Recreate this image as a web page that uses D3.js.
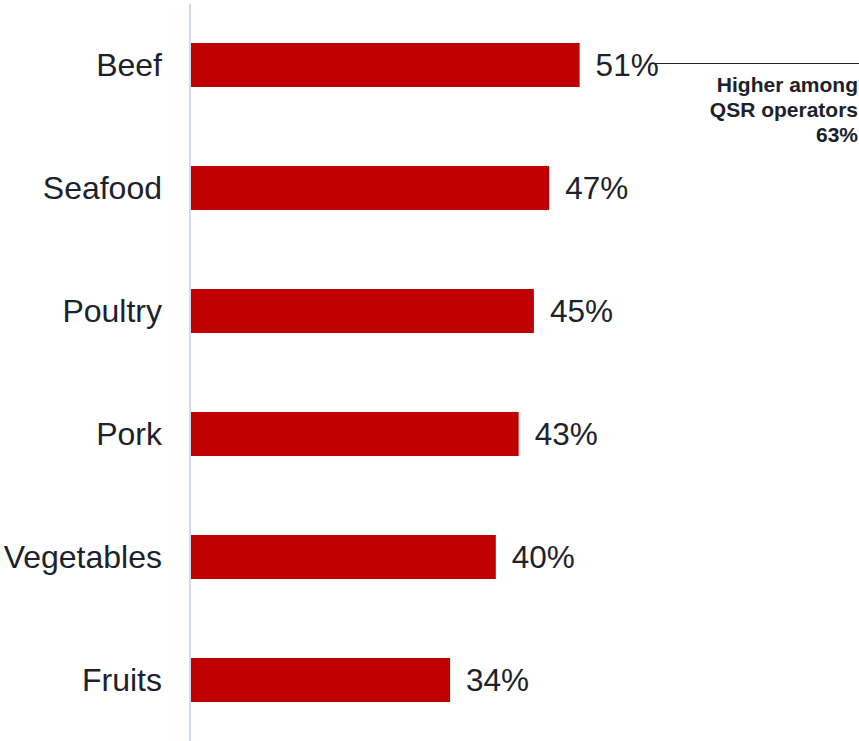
<!DOCTYPE html>
<html>
<head>
<meta charset="utf-8">
<script src="https://cdn.jsdelivr.net/npm/d3@7"></script>
<style>
  html, body { margin: 0; padding: 0; background: #ffffff; }
  svg { display: block; }
</style>
</head>
<body>
<svg id="chart" width="859" height="741"></svg>
<script>
// Share of operators by protein / produce category
const categories = ["Beef", "Seafood", "Poultry", "Pork", "Vegetables", "Fruits"];
const values = [51, 47, 45, 43, 40, 34];

// Callout next to the top bar
const calloutLines = ["Higher among", "QSR operators", "63%"];

const W = 859, H = 741;
const svg = d3.select("#chart");

const x = d3.scaleLinear().domain([0, 100]).range([191, 191 + 762]);
const y = d3.scaleBand().domain(categories).range([3.5, 741.5]).paddingInner(0.642).paddingOuter(0.321);

const textColor = "#1c222b";
const font = "'Liberation Sans', Arial, Helvetica, sans-serif";

// vertical baseline axis
svg.append("line")
  .attr("x1", 190).attr("x2", 190)
  .attr("y1", 4).attr("y2", H)
  .attr("stroke", "#d3dbe8").attr("stroke-width", 2);

// bars
svg.selectAll("rect.bar")
  .data(categories)
  .join("rect")
  .attr("class", "bar")
  .attr("x", x(0))
  .attr("y", d => y(d))
  .attr("width", (d, i) => x(values[i]) - x(0))
  .attr("height", y.bandwidth())
  .attr("fill", "#c00000");

// category labels
svg.selectAll("text.cat")
  .data(categories)
  .join("text")
  .attr("class", "cat")
  .attr("x", 162)
  .attr("y", d => y(d) + y.bandwidth() / 2 + 10.5)
  .attr("text-anchor", "end")
  .attr("font-family", font)
  .attr("font-size", 32)
  .attr("fill", textColor)
  .text(d => d);

// value labels
svg.selectAll("text.val")
  .data(categories)
  .join("text")
  .attr("class", "val")
  .attr("x", (d, i) => x(values[i]) + 16)
  .attr("y", d => y(d) + y.bandwidth() / 2 + 10.5)
  .attr("font-family", font)
  .attr("font-size", 31.5)
  .attr("fill", textColor)
  .text((d, i) => values[i] + "%");

// callout leader line and text
const beefMid = y("Beef") + y.bandwidth() / 2;
svg.append("line")
  .attr("x1", 650).attr("x2", W)
  .attr("y1", 63.5).attr("y2", 63.5)
  .attr("stroke", "#1c222b").attr("stroke-width", 1);

svg.append("text")
  .attr("text-anchor", "end")
  .attr("font-family", font)
  .attr("font-weight", "bold")
  .attr("font-size", 21)
  .attr("fill", textColor)
  .selectAll("tspan")
  .data(calloutLines)
  .join("tspan")
  .attr("x", 858)
  .attr("y", (d, i) => beefMid + 27 + i * 25)
  .text(d => d);
</script>
</body>
</html>
